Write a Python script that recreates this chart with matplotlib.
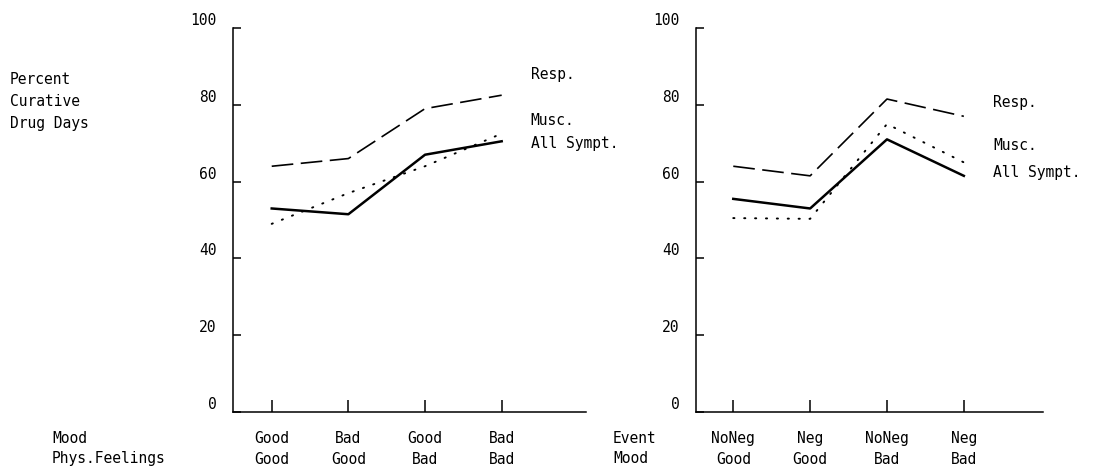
import matplotlib
matplotlib.use("Agg")
import matplotlib.pyplot as plt
from matplotlib.transforms import ScaledTranslation

# data (percent curative drug days)
x_pos = [1, 2, 3, 4]
yticks = [0, 20, 40, 60, 80, 100]

left_labels = ["Good\nGood", "Bad\nGood", "Good\nBad", "Bad\nBad"]
left_resp = [64, 66, 79, 82.5]
left_musc = [49, 57, 64, 72.5]
left_all = [53, 51.5, 67, 70.5]

right_labels = ["NoNeg\nGood", "Neg\nGood", "NoNeg\nBad", "Neg\nBad"]
right_resp = [64, 61.5, 81.5, 77]
right_musc = [50.5, 50.3, 75, 65]
right_all = [55.5, 53, 71, 61.5]

series_names = ["Resp.", "Musc.", "All Sympt."]

plt.rcParams['font.family'] = ['DejaVu Sans Mono']
FS = 10.5

fig = plt.figure(figsize=(11.01, 4.70), dpi=100)
W, H = 1101, 470

def make_panel(rect, xlim, labels, resp, musc, allsym, name_y):
    ax = fig.add_axes(rect)
    ax.plot(x_pos, resp, color='black', lw=1.2, linestyle=(0, (13, 4.5)))
    ax.plot(x_pos, musc, color='black', lw=1.4, linestyle=(0, (0.6, 5.0)),
            dash_capstyle='round')
    ax.plot(x_pos, allsym, color='black', lw=1.8)
    ax.set_xlim(*xlim)
    ax.set_ylim(0, 100)
    for s in ['top', 'right']:
        ax.spines[s].set_visible(False)
    for s in ['left', 'bottom']:
        ax.spines[s].set_linewidth(1.1)
    ax.set_yticks(yticks)
    ax.set_xticks(x_pos)
    ax.set_xticklabels(labels, fontsize=FS, linespacing=1.45)
    ax.tick_params(axis='y', direction='in', length=6, width=1.1, pad=12,
                   labelsize=FS)
    ax.tick_params(axis='x', direction='in', length=8.5, width=1.1, pad=14)
    off = ScaledTranslation(0, 6.5 / 72, fig.dpi_scale_trans)
    for lab in ax.get_yticklabels():
        lab.set_transform(lab.get_transform() + off)
    for name, yy in zip(series_names, name_y):
        ax.text(4.38, yy, name, fontsize=FS, ha='left', va='center')
    return ax

axL = make_panel([233 / W, 58 / H, 353 / W, 384 / H], (0.495, 5.1),
                 left_labels, left_resp, left_musc, left_all, [88.0, 75.8, 69.8])
axR = make_panel([696 / W, 58 / H, 347 / W, 384 / H], (0.515, 5.03),
                 right_labels, right_resp, right_musc, right_all, [80.7, 69.5, 62.5])

# y axis title
fig.text(10 / W, 1 - 72 / H, "Percent\nCurative\nDrug Days", fontsize=FS,
         ha='left', va='top', linespacing=1.6)

# row titles under the x axes
fig.text(52 / W, 1 - 431 / H, "Mood\nPhys.Feelings", fontsize=FS,
         ha='left', va='top', linespacing=1.45)
fig.text(613 / W, 1 - 431 / H, "Event\nMood", fontsize=FS,
         ha='left', va='top', linespacing=1.45)

fig.savefig("out.png", dpi=100)
